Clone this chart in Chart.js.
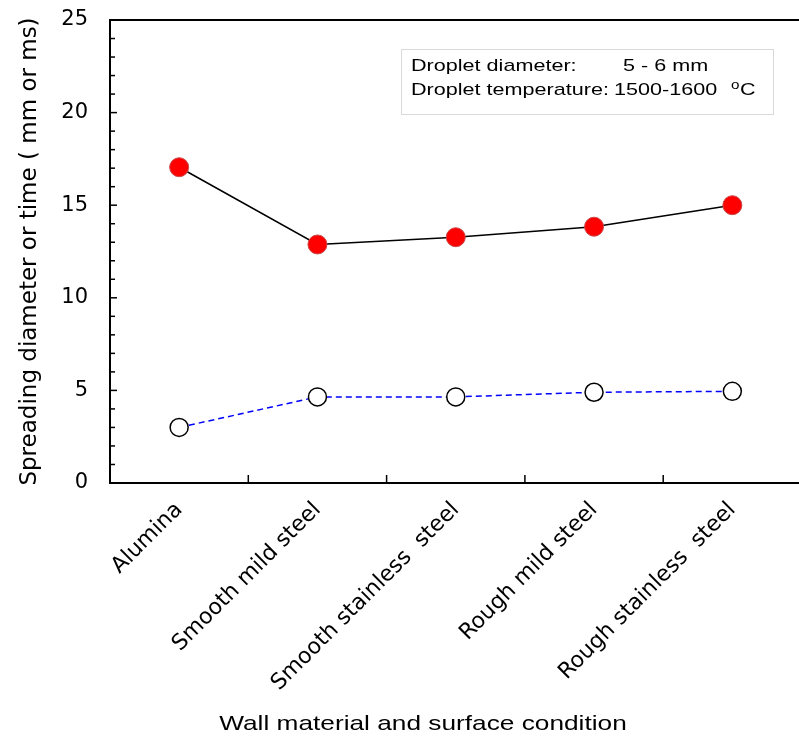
<!DOCTYPE html>
<html>
<head>
<meta charset="utf-8">
<title>Spreading diameter and time</title>
<script src="https://cdn.jsdelivr.net/npm/chart.js@4.4.1/dist/chart.umd.min.js"></script>
<style>
    html, body { margin: 0; padding: 0; background: #fff; overflow: hidden; }
    #wrap { position: relative; width: 812px; height: 737px; }
</style>
</head>
<body>
<div id="wrap"><canvas id="spreadChart"></canvas></div>
<script>
// Wall materials tested
const categories = ['Alumina', 'Smooth mild steel', 'Smooth stainless  steel', 'Rough mild steel', 'Rough stainless  steel'];
// Spreading diameter (mm) - filled red markers
const diameterValues = [17.05, 12.88, 13.27, 13.84, 15.0];
// Spreading time (ms) - open markers, dashed blue
const timeValues = [3.0, 4.65, 4.65, 4.9, 4.95];
const yMin = 0;
const yMax = 25;
const yMajorStep = 5;

const xTitle = 'Wall material and surface condition';
const yTitle = 'Spreading diameter or time ( mm or ms)';

// Conditions note shown in the upper right box
const noteLabels = ['Droplet diameter:', 'Droplet temperature:'];
const noteValues = ['5 - 6 mm', '1500-1600'];

Chart.defaults.font.family = "'DejaVu Sans', Arial, sans-serif";
Chart.defaults.color = '#000';

// Text drawn slightly widened, like the original figure fonts
function stretchedText(ctx, text, x, y, font, sx, align) {
    ctx.save();
    ctx.font = font;
    ctx.fillStyle = '#000';
    ctx.textAlign = align || 'left';
    ctx.textBaseline = 'alphabetic';
    ctx.translate(x, y);
    ctx.scale(sx, 1);
    ctx.fillText(text, 0, 0);
    ctx.restore();
}

// Frame top line and inward tick marks on both axes
const frameTicks = {
    id: 'frameTicks',
    afterDraw(chart) {
        const { ctx, chartArea, scales } = chart;
        const x = scales.x;
        const y = scales.y;
        ctx.save();
        ctx.strokeStyle = '#000';
        ctx.lineWidth = 2;
        ctx.beginPath();
        ctx.moveTo(chartArea.left - 1, chartArea.top);
        ctx.lineTo(chartArea.right, chartArea.top);
        ctx.stroke();

        ctx.lineWidth = 1.5;
        y.ticks.forEach(t => {
            const py = y.getPixelForValue(t.value);
            const len = t.value % yMajorStep === 0 ? 7 : 5;
            ctx.beginPath();
            ctx.moveTo(chartArea.left, py);
            ctx.lineTo(chartArea.left + len, py);
            ctx.stroke();
        });
        for (let i = 0; i < categories.length - 1; i++) {
            const px = (x.getPixelForValue(i) + x.getPixelForValue(i + 1)) / 2;
            ctx.beginPath();
            ctx.moveTo(px, chartArea.bottom);
            ctx.lineTo(px, chartArea.bottom - 8);
            ctx.stroke();
        }
        ctx.restore();
    }
};

// Bottom axis caption and the conditions box
const captions = {
    id: 'captions',
    afterDraw(chart) {
        const ctx = chart.ctx;
        stretchedText(ctx, xTitle, 423, 730, '21px "Liberation Sans", Arial', 1.25, 'center');

        ctx.save();
        ctx.fillStyle = '#fff';
        ctx.strokeStyle = '#d9d9d9';
        ctx.lineWidth = 1;
        ctx.fillRect(401.5, 49.5, 372, 65);
        ctx.strokeRect(401.5, 49.5, 372, 65);
        ctx.restore();

        const f = '17px "Liberation Sans", Arial';
        stretchedText(ctx, noteLabels[0], 411, 71, f, 1.27);
        stretchedText(ctx, noteValues[0], 623, 71, f, 1.27);
        stretchedText(ctx, noteLabels[1], 411, 95, f, 1.27);
        stretchedText(ctx, noteValues[1], 614, 95, f, 1.27);
        stretchedText(ctx, 'o', 731, 89, '12px "Liberation Sans", Arial', 1.27);
        stretchedText(ctx, 'C', 740, 95, f, 1.27);
    }
};

new Chart(document.getElementById('spreadChart'), {
    type: 'line',
    data: {
        labels: categories,
        datasets: [
            {
                label: 'Spreading diameter (mm)',
                data: diameterValues,
                borderColor: '#000',
                borderWidth: 1.5,
                pointRadius: 9.5,
                pointBackgroundColor: '#ff0000',
                pointBorderColor: '#c84848',
                pointBorderWidth: 1,
                tension: 0
            },
            {
                label: 'Spreading time (ms)',
                data: timeValues,
                borderColor: '#0000ff',
                borderWidth: 1.5,
                borderDash: [6, 4],
                pointRadius: 9,
                pointBackgroundColor: '#fff',
                pointBorderColor: '#000',
                pointBorderWidth: 1.5,
                tension: 0
            }
        ]
    },
    options: {
        responsive: true,
        maintainAspectRatio: false,
        animation: false,
        layout: { padding: { top: 20, right: 6, left: 0, bottom: 0 } },
        plugins: {
            legend: { display: false },
            tooltip: { enabled: false }
        },
        scales: {
            x: {
                type: 'category',
                offset: true,
                grid: { display: false },
                border: { display: true, color: '#000', width: 2 },
                ticks: {
                    autoSkip: false,
                    maxRotation: 45,
                    minRotation: 45,
                    padding: 6,
                    font: { size: 22 }
                },
                afterFit: s => { s.height = 254; }
            },
            y: {
                min: yMin,
                max: yMax,
                grid: { display: true, drawOnChartArea: false, drawTicks: false },
                border: { display: true, color: '#000', width: 2 },
                ticks: {
                    stepSize: 1,
                    autoSkip: false,
                    maxTicksLimit: 100,
                    padding: 22,
                    font: { size: 21 },
                    callback: v => (v % yMajorStep === 0 ? v : '')
                },
                title: {
                    display: true,
                    text: yTitle,
                    font: { size: 23 },
                    padding: { top: 16, bottom: 0 }
                },
                afterFit: s => {
                    s.width = 110;
                    // label overhang is covered by the layout padding
                    s.paddingTop = 0;
                    s.paddingBottom = 0;
                }
            }
        }
    },
    plugins: [frameTicks, captions]
});
</script>
</body>
</html>
